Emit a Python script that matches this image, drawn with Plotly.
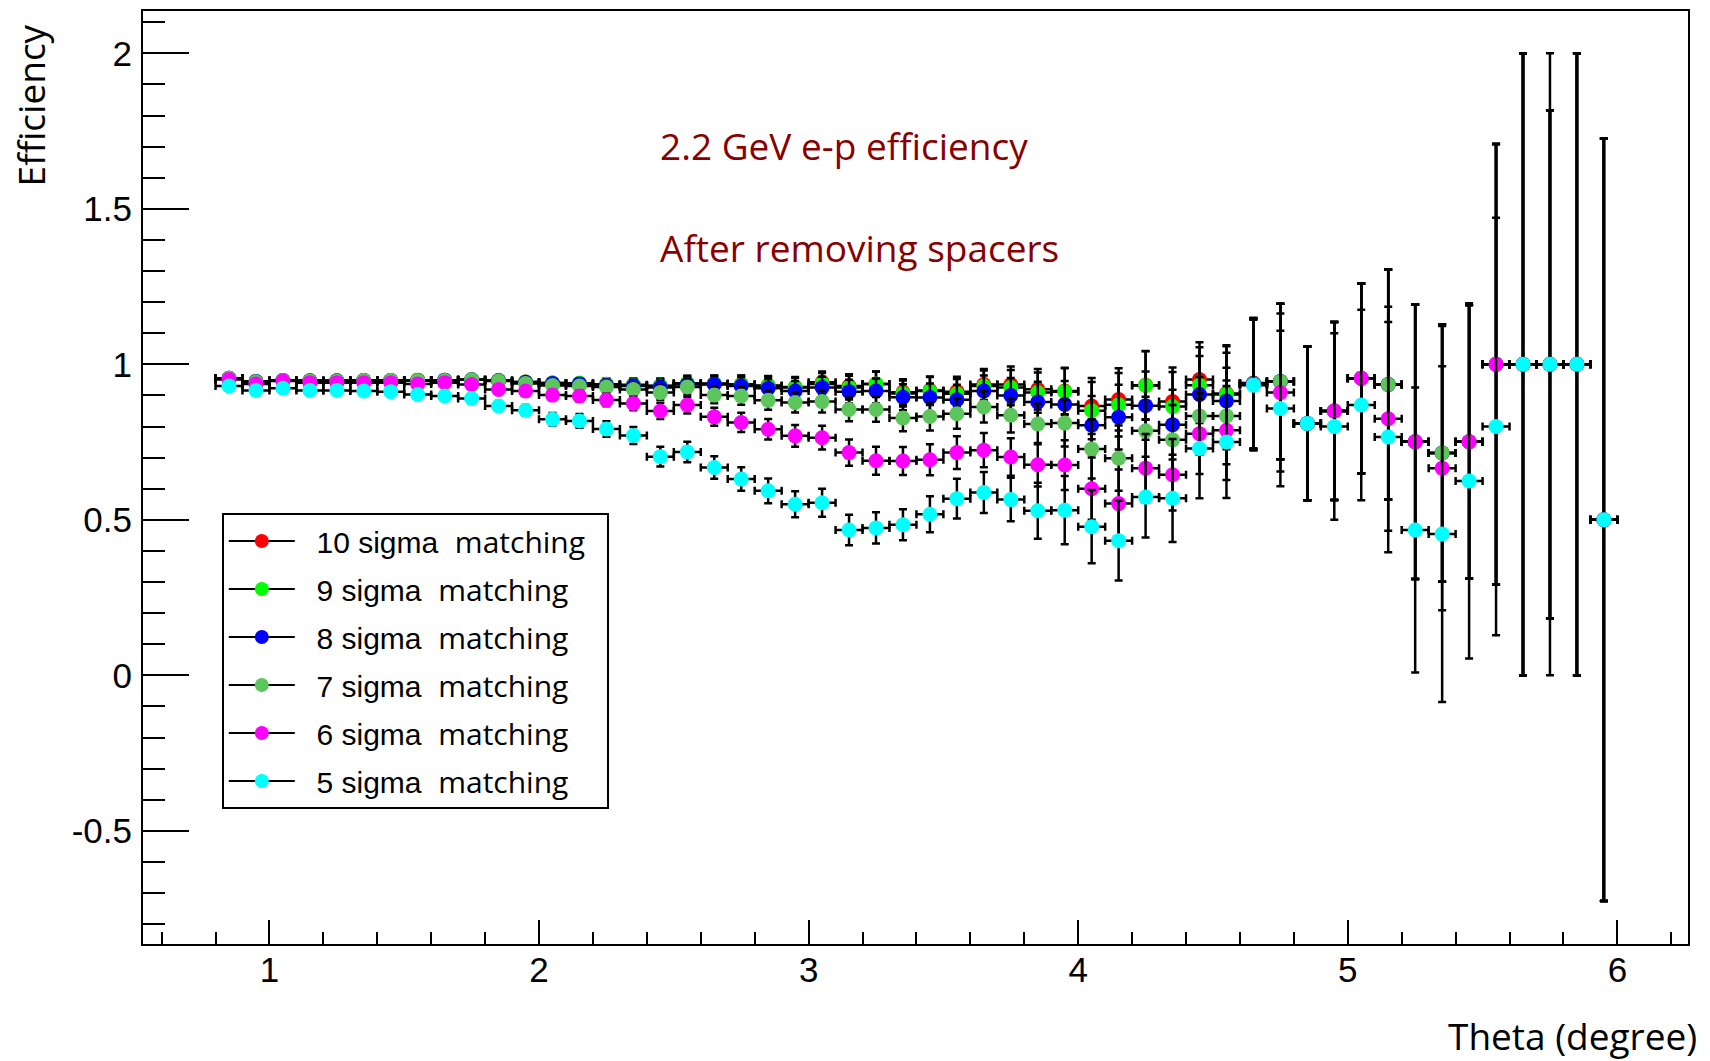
import plotly.graph_objects as go

# Theta bin centres (degree) and half bin width
theta = [0.85, 0.95, 1.05, 1.15, 1.25, 1.35, 1.45, 1.55, 1.65, 1.75,
         1.85, 1.95, 2.05, 2.15, 2.25, 2.35, 2.45, 2.55, 2.65, 2.75,
         2.85, 2.95, 3.05, 3.15, 3.25, 3.35, 3.45, 3.55, 3.65, 3.75,
         3.85, 3.95, 4.05, 4.15, 4.25, 4.35, 4.45, 4.55, 4.65, 4.75,
         4.85, 4.95, 5.05, 5.15, 5.25, 5.35, 5.45, 5.55, 5.65, 5.75,
         5.85, 5.95]
half_bin = [0.05] * len(theta)

# Efficiency per matching window
eff_10 = [0.955, 0.945, 0.948, 0.947, 0.947, 0.948, 0.948, 0.949, 0.949, 0.950,
          0.948, 0.943, 0.940, 0.939, 0.936, 0.934, 0.931, 0.939, 0.938, 0.936,
          0.932, 0.927, 0.942, 0.930, 0.937, 0.910, 0.916, 0.912, 0.935, 0.935,
          0.920, 0.914, 0.866, 0.887, 0.933, 0.880, 0.951, 0.906, 0.940, 0.945,
          0.810, 0.850, 0.955, 0.935, 0.751, 0.715, 0.751, 1.0, 1.0, 1.0,
          1.0, 0.5]
eff_9 = [0.955, 0.945, 0.948, 0.947, 0.947, 0.948, 0.948, 0.949, 0.949, 0.950,
         0.948, 0.943, 0.940, 0.939, 0.935, 0.933, 0.930, 0.938, 0.937, 0.935,
         0.930, 0.925, 0.937, 0.925, 0.937, 0.906, 0.914, 0.905, 0.930, 0.925,
         0.909, 0.912, 0.851, 0.870, 0.932, 0.864, 0.933, 0.903, 0.938, 0.945,
         0.810, 0.850, 0.955, 0.935, 0.751, 0.715, 0.751, 1.0, 1.0, 1.0,
         1.0, 0.5]
eff_8 = [0.955, 0.945, 0.948, 0.947, 0.947, 0.948, 0.948, 0.948, 0.949, 0.950,
         0.947, 0.942, 0.938, 0.937, 0.932, 0.930, 0.925, 0.935, 0.935, 0.930,
         0.923, 0.914, 0.925, 0.912, 0.914, 0.894, 0.893, 0.886, 0.914, 0.900,
         0.879, 0.871, 0.804, 0.830, 0.867, 0.806, 0.903, 0.882, 0.938, 0.945,
         0.810, 0.850, 0.955, 0.935, 0.751, 0.715, 0.751, 1.0, 1.0, 1.0,
         1.0, 0.5]
eff_7 = [0.955, 0.944, 0.948, 0.946, 0.946, 0.948, 0.948, 0.948, 0.948, 0.950,
         0.946, 0.938, 0.932, 0.930, 0.927, 0.919, 0.909, 0.927, 0.901, 0.898,
         0.884, 0.877, 0.880, 0.855, 0.855, 0.827, 0.832, 0.841, 0.863, 0.836,
         0.808, 0.811, 0.728, 0.698, 0.786, 0.757, 0.834, 0.834, 0.937, 0.945,
         0.810, 0.850, 0.955, 0.935, 0.751, 0.715, 0.751, 1.0, 1.0, 1.0,
         1.0, 0.5]
eff_6 = [0.951, 0.937, 0.946, 0.941, 0.941, 0.941, 0.941, 0.937, 0.941, 0.935,
         0.919, 0.914, 0.901, 0.898, 0.885, 0.874, 0.850, 0.869, 0.831, 0.813,
         0.791, 0.770, 0.764, 0.716, 0.690, 0.689, 0.693, 0.716, 0.724, 0.702,
         0.677, 0.676, 0.600, 0.552, 0.666, 0.645, 0.777, 0.788, 0.935, 0.909,
         0.810, 0.850, 0.955, 0.825, 0.751, 0.666, 0.751, 1.0, 1.0, 1.0,
         1.0, 0.5]
eff_5 = [0.930, 0.916, 0.923, 0.916, 0.916, 0.914, 0.912, 0.903, 0.898, 0.890,
         0.866, 0.852, 0.823, 0.818, 0.792, 0.771, 0.703, 0.718, 0.668, 0.631,
         0.593, 0.550, 0.555, 0.467, 0.474, 0.484, 0.518, 0.568, 0.588, 0.565,
         0.529, 0.531, 0.478, 0.433, 0.573, 0.569, 0.729, 0.750, 0.933, 0.858,
         0.810, 0.800, 0.869, 0.766, 0.467, 0.454, 0.625, 0.800, 1.0, 1.0,
         1.0, 0.5]

# Statistical uncertainties on the efficiencies
err_10 = [0.009, 0.009, 0.009, 0.009, 0.009, 0.009, 0.009, 0.010, 0.010, 0.010,
          0.011, 0.012, 0.015, 0.016, 0.018, 0.020, 0.023, 0.024, 0.026, 0.028,
          0.030, 0.032, 0.035, 0.038, 0.040, 0.042, 0.045, 0.048, 0.050, 0.058,
          0.065, 0.075, 0.090, 0.100, 0.110, 0.110, 0.120, 0.155, 0.210, 0.250,
          0.247, 0.286, 0.305, 0.370, 0.441, 0.414, 0.440, 0.708, 1.0, 0.817,
          1.0, 1.226]
err_9 = [0.009, 0.009, 0.009, 0.009, 0.009, 0.009, 0.009, 0.010, 0.010, 0.010,
         0.011, 0.012, 0.015, 0.016, 0.018, 0.020, 0.023, 0.024, 0.026, 0.028,
         0.030, 0.032, 0.035, 0.038, 0.040, 0.042, 0.045, 0.048, 0.050, 0.057,
         0.065, 0.075, 0.092, 0.102, 0.110, 0.111, 0.122, 0.155, 0.210, 0.250,
         0.247, 0.286, 0.305, 0.370, 0.441, 0.414, 0.440, 0.708, 1.0, 0.817,
         1.0, 1.226]
err_8 = [0.009, 0.009, 0.009, 0.009, 0.009, 0.009, 0.009, 0.010, 0.010, 0.010,
         0.011, 0.012, 0.015, 0.016, 0.018, 0.020, 0.023, 0.024, 0.026, 0.028,
         0.030, 0.032, 0.035, 0.038, 0.040, 0.042, 0.045, 0.048, 0.050, 0.056,
         0.065, 0.075, 0.094, 0.104, 0.110, 0.112, 0.124, 0.155, 0.210, 0.250,
         0.247, 0.286, 0.305, 0.370, 0.441, 0.414, 0.440, 0.708, 1.0, 0.817,
         1.0, 1.226]
err_7 = [0.009, 0.009, 0.009, 0.009, 0.009, 0.009, 0.009, 0.010, 0.010, 0.010,
         0.011, 0.012, 0.015, 0.016, 0.018, 0.020, 0.023, 0.024, 0.026, 0.028,
         0.030, 0.032, 0.035, 0.038, 0.040, 0.042, 0.045, 0.048, 0.050, 0.055,
         0.065, 0.075, 0.095, 0.105, 0.110, 0.112, 0.125, 0.155, 0.210, 0.250,
         0.247, 0.286, 0.305, 0.370, 0.441, 0.414, 0.440, 0.708, 1.0, 0.817,
         1.0, 1.226]
err_6 = [0.010, 0.010, 0.010, 0.010, 0.010, 0.010, 0.011, 0.011, 0.011, 0.012,
         0.013, 0.014, 0.017, 0.018, 0.020, 0.022, 0.026, 0.027, 0.029, 0.031,
         0.033, 0.035, 0.038, 0.042, 0.045, 0.045, 0.050, 0.053, 0.055, 0.060,
         0.070, 0.080, 0.100, 0.110, 0.110, 0.115, 0.130, 0.160, 0.210, 0.254,
         0.247, 0.286, 0.305, 0.360, 0.441, 0.457, 0.440, 0.708, 1.0, 0.817,
         1.0, 1.226]
err_5 = [0.012, 0.012, 0.012, 0.012, 0.012, 0.013, 0.013, 0.014, 0.014, 0.015,
         0.016, 0.017, 0.020, 0.022, 0.025, 0.027, 0.032, 0.033, 0.036, 0.038,
         0.040, 0.042, 0.045, 0.049, 0.050, 0.050, 0.058, 0.064, 0.066, 0.070,
         0.090, 0.110, 0.118, 0.128, 0.130, 0.140, 0.160, 0.180, 0.210, 0.250,
         0.247, 0.300, 0.306, 0.370, 0.458, 0.540, 0.571, 0.671, 1.0, 1.0,
         1.0, 1.226]

labels = ["10 sigma", "9 sigma", "8 sigma", "7 sigma", "6 sigma", "5 sigma"]
colors = ["#ff0000", "#00ff00", "#0000ff", "#5cc65c", "#ff00ff", "#00ffff"]
series = [eff_10, eff_9, eff_8, eff_7, eff_6, eff_5]
errors = [err_10, err_9, err_8, err_7, err_6, err_5]

y_tickvals = [-0.5, 0, 0.5, 1, 1.5, 2]
y_ticktext = ["-0.5", "0", "0.5", "1", "1.5", "2"]

fig = go.Figure()

for lab, col, eff, err in zip(labels, colors, series, errors):
    fig.add_trace(go.Scatter(
        x=theta, y=eff, mode="markers", showlegend=False,
        marker=dict(color=col, size=15, line=dict(width=0)),
        error_y=dict(type="data", array=err, visible=True,
                     color="black", thickness=2.5, width=4),
        error_x=dict(type="data", array=half_bin, visible=True,
                     color="black", thickness=2.5, width=4),
    ))

# legend entries: black line with coloured marker
for i, (lab, col) in enumerate(zip(labels, colors)):
    fig.add_trace(go.Scatter(
        x=[None], y=[None], mode="lines+markers",
        name=("&nbsp;&nbsp;" + lab +
              "&nbsp;&nbsp;<span style='font-family:Open Sans'>matching</span>"
              "&nbsp;&nbsp;"),
        legendgroup="g%d" % i,
        line=dict(color="black", width=2),
        marker=dict(color=col, size=14),
    ))

fig.add_annotation(xref="x", yref="y", x=2.44, y=1.705, xanchor="left",
                   yanchor="middle", showarrow=False,
                   text="2.2 GeV e-p efficiency",
                   font=dict(family="Open Sans", size=37, color="#880000"))
fig.add_annotation(xref="x", yref="y", x=2.44, y=1.375, xanchor="left",
                   yanchor="middle", showarrow=False,
                   text="After removing spacers",
                   font=dict(family="Open Sans", size=37, color="#880000"))

# axis titles
fig.add_annotation(xref="paper", yref="paper", x=-0.073, y=0.988,
                   xanchor="center", yanchor="top", textangle=-90,
                   showarrow=False, text="Efficiency",
                   font=dict(family="Open Sans", size=37, color="black"))
fig.add_annotation(xref="paper", yref="paper", x=1.007, y=-0.098,
                   xanchor="right", yanchor="middle",
                   showarrow=False, text="Theta (degree)",
                   font=dict(family="Open Sans", size=37, color="black"))

tickfont = dict(family="Liberation Sans", size=35, color="black")
fig.update_xaxes(
    range=[0.531, 6.262], showgrid=False, zeroline=False,
    showline=True, linecolor="black", linewidth=2, mirror=True,
    ticks="inside", ticklen=24, tickwidth=2, tickcolor="black",
    tick0=0, dtick=1, tickfont=tickfont, ticklabelstandoff=-6,
    minor=dict(dtick=0.2, tick0=0, ticks="inside", ticklen=12,
               tickwidth=2, tickcolor="black", showgrid=False),
)
fig.update_yaxes(
    range=[-0.864, 2.136], showgrid=False, zeroline=False,
    showline=True, linecolor="black", linewidth=2, mirror=True,
    ticks="inside", ticklen=46, tickwidth=2, tickcolor="black",
    tickvals=y_tickvals, ticktext=y_ticktext, tickfont=tickfont,
    ticklabelstandoff=2,
    minor=dict(dtick=0.1, tick0=0, ticks="inside", ticklen=22,
               tickwidth=2, tickcolor="black", showgrid=False),
)

fig.update_layout(
    width=1710, height=1061,
    margin=dict(l=143, r=22, t=9, b=117),
    plot_bgcolor="white", paper_bgcolor="white",
    legend=dict(x=0.051, y=0.462, xanchor="left", yanchor="top",
                bgcolor="white", bordercolor="black", borderwidth=2,
                font=dict(family="Liberation Sans", size=30, color="black"),
                tracegroupgap=6, itemwidth=66),
)

fig.write_html("out.html")
